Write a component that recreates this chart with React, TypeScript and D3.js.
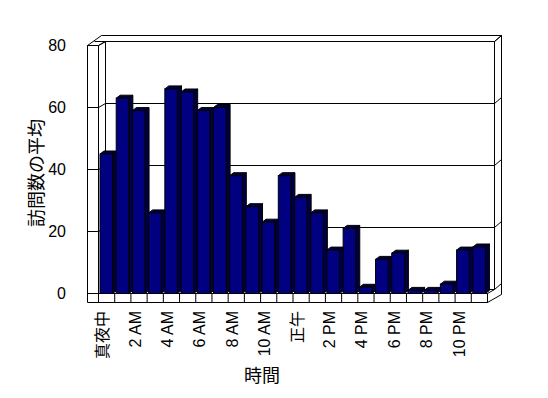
import React, { Component } from "react";
import * as d3 from "d3";

// hourly categories and the average visits per hour
const hours = ["0", "1", "2", "3", "4", "5", "6", "7", "8", "9", "10", "11",
  "12", "13", "14", "15", "16", "17", "18", "19", "20", "21", "22", "23"];
const visits = [45, 63, 59, 26, 66, 65, 59, 60, 38, 28, 23, 38,
  31, 26, 14, 21, 2, 11, 13, 1, 1, 3, 14, 15];
const hourLabels = ["真夜中", "2 AM", "4 AM", "6 AM", "8 AM", "10 AM",
  "正午", "2 PM", "4 PM", "6 PM", "8 PM", "10 PM"];
const yTicks = [0, 20, 40, 60, 80];

const FONT = "'Liberation Sans', 'Noto Sans CJK JP', sans-serif";

class App extends Component {
  componentDidMount() {
    this.componentDidUpdate();
  }
  componentDidUpdate() {
    var outerLeft = 87,
      left = 98,
      right = 487,
      floorY = 293,
      floorThick = 9,
      dx = 7, dy = -4, // plot depth
      tx = 7, ty = -6, // wall thickness
      bx = 4, by = -3; // bar depth

    var x = d3.scaleBand().domain(hours).range([left, right]).padding(0);
    var y = d3.scaleLinear().domain([0, 80]).range([floorY, 45]);
    var yTop = y(80);

    var svg = d3.select(".chart_svg");
    svg.selectAll("*").remove();

    var defs = svg.append("defs");
    var pat = defs.append("pattern").attr("id", "dither")
      .attr("width", 2).attr("height", 2).attr("patternUnits", "userSpaceOnUse");
    pat.append("rect").attr("width", 2).attr("height", 2).attr("fill", "#000080");
    pat.append("rect").attr("width", 1).attr("height", 1).attr("fill", "#000000");
    pat.append("rect").attr("x", 1).attr("y", 1).attr("width", 1).attr("height", 1).attr("fill", "#000000");

    var g = svg.append("g").attr("transform", "translate(0.5,0.5)");
    var line = (pts) => "M" + pts.map((p) => p.join(",")).join("L");

    // outer outline of walls and floor
    g.append("path")
      .attr("d", line([
        [outerLeft, yTop], [outerLeft + dx + tx, yTop + dy + ty],
        [right + dx + tx, yTop + dy + ty], [right + dx + tx, floorY + floorThick + dy + ty + 2],
        [right, floorY + floorThick], [outerLeft, floorY + floorThick],
      ]) + "Z")
      .attr("fill", "white").attr("stroke", "black");

    // wall edges
    var edges = [
      [[left, yTop], [left, floorY + floorThick]],
      [[outerLeft, floorY], [left, floorY]],
      [[left, yTop], [left + dx, yTop + dy]],
      [[outerLeft, yTop], [left, yTop]],
      [[outerLeft + dx, yTop + dy], [right + dx, yTop + dy]],
      [[left + dx, yTop + dy], [left + dx, floorY + dy]],
      [[right + dx, yTop + dy], [right + dx + tx, yTop + dy + ty]],
      [[right + dx, yTop + dy], [right + dx, floorY + dy]],
      [[left, floorY], [right, floorY]],
      [[left + dx, floorY + dy], [right + dx, floorY + dy]],
      [[right, floorY], [right + dx, floorY + dy]],
      [[right, floorY], [right, floorY + floorThick]],
      [[right + dx, floorY + dy], [right + dx + tx, floorY + dy + ty]],
    ];
    g.selectAll(".edge").data(edges).join("path").attr("class", "edge")
      .attr("d", (d) => line(d)).attr("fill", "none").attr("stroke", "black");

    // gridlines: front tick, diagonal on left wall, back wall, right edge
    g.selectAll(".grid").data(yTicks.filter((v) => v > 0)).join("path").attr("class", "grid")
      .attr("d", (v) => line([
        [outerLeft, y(v)], [left, y(v)], [left + dx, y(v) + dy],
        [right + dx, y(v) + dy], [right + dx + tx, y(v) + dy + ty],
      ]))
      .attr("fill", "none").attr("stroke", "black");

    // category dividers on the floor front
    g.selectAll(".cat").data(hours).join("line").attr("class", "cat")
      .attr("x1", (d) => x(d) + x.bandwidth()).attr("x2", (d) => x(d) + x.bandwidth())
      .attr("y1", floorY).attr("y2", floorY + floorThick)
      .attr("stroke", "black");

    // bars
    var fw = x.bandwidth() * 0.78, off = 1.5;
    var bars = g.selectAll(".bar").data(visits).join("g").attr("class", "bar");
    bars.append("path")
      .attr("d", (v, i) => {
        var x0 = x(hours[i]) + off + fw, yv = y(v);
        return line([[x0, yv], [x0 + bx, yv + by], [x0 + bx, floorY + by], [x0, floorY]]) + "Z";
      })
      .attr("fill", "url(#dither)").attr("stroke", "black");
    bars.append("path")
      .attr("d", (v, i) => {
        var x0 = x(hours[i]) + off, yv = y(v);
        return line([[x0, yv], [x0 + bx, yv + by], [x0 + fw + bx, yv + by], [x0 + fw, yv]]) + "Z";
      })
      .attr("fill", "url(#dither)").attr("stroke", "black");
    bars.append("rect")
      .attr("x", (v, i) => x(hours[i]) + off)
      .attr("y", (v) => y(v))
      .attr("width", fw)
      .attr("height", (v) => floorY - y(v))
      .attr("fill", "#000080").attr("stroke", "black");

    // y tick labels
    svg.selectAll(".ytick").data(yTicks).join("text").attr("class", "ytick")
      .attr("x", 66).attr("y", (v) => y(v))
      .attr("text-anchor", "end").attr("dominant-baseline", "central")
      .attr("font-family", FONT).attr("font-size", 16)
      .text((v) => v);

    // x tick labels (every second hour)
    svg.selectAll(".xtick").data(hourLabels).join("text").attr("class", "xtick")
      .attr("transform", (d, i) => {
        var h = hours[i * 2];
        return `translate(${x(h) + x.bandwidth() / 2 + 2},311) rotate(-90)`;
      })
      .attr("text-anchor", "end")
      .attr("font-family", FONT).attr("font-size", 16)
      .text((d) => d);

    svg.append("text")
      .attr("transform", "translate(37,173) rotate(-90)")
      .attr("text-anchor", "middle").attr("dominant-baseline", "central")
      .attr("font-family", FONT).attr("font-size", 18)
      .text("訪問数の平均");

    svg.append("text")
      .attr("x", 262).attr("y", 376)
      .attr("text-anchor", "middle").attr("dominant-baseline", "central")
      .attr("font-family", FONT).attr("font-size", 18)
      .text("時間");
  }
  render() {
    return (
      <svg className="chart_svg" width={548} height={398}
        style={{ position: "absolute", left: 0, top: 0, background: "white" }} />
    );
  }
}
export default App;
